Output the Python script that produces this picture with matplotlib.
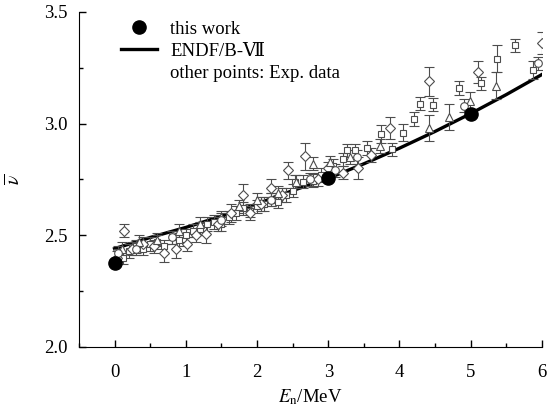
import matplotlib.pyplot as plt
from matplotlib.lines import Line2D
from matplotlib.ticker import MultipleLocator, FormatStrFormatter

plt.rcParams['font.family'] = ['Liberation Serif', 'DejaVu Serif', 'Noto Sans CJK SC']
plt.rcParams['mathtext.fontset'] = 'stix'

# this work
work_E = [0.0, 3.0, 5.0]
work_nu = [2.375, 2.755, 3.045]

# ENDF/B-VII evaluation
endf_E = [0, 0.25, 0.5, 1.0, 1.5, 2.0, 2.5, 3.0, 3.5, 4.0, 4.5, 5.0, 5.5, 6.0]
endf_nu = [2.44, 2.465, 2.49, 2.535, 2.585, 2.64, 2.70, 2.755, 2.82, 2.89, 2.965, 3.045, 3.13, 3.22]

# experimental data (squares)
sq_E = [0.05, 0.12, 0.2, 0.3, 0.4, 0.5, 0.6, 0.7, 0.8, 0.9, 1.0, 1.1, 1.2, 1.3, 1.4, 1.5,
        1.6, 1.7, 1.8, 1.9, 2.0, 2.1, 2.2, 2.3, 2.4, 2.5, 2.54, 2.65, 2.78, 2.9, 3.07, 3.2,
        3.27, 3.38, 3.55, 3.74, 3.9, 4.05, 4.2, 4.29, 4.47, 4.83, 5.15, 5.37, 5.62, 5.88]
sq_nu = [2.41, 2.40, 2.43, 2.45, 2.44, 2.46, 2.47, 2.45, 2.49, 2.48, 2.50, 2.52, 2.53, 2.55, 2.56, 2.55,
         2.58, 2.60, 2.62, 2.61, 2.63, 2.64, 2.66, 2.65, 2.68, 2.70, 2.74, 2.74, 2.745, 2.77, 2.81, 2.84,
         2.88, 2.88, 2.89, 2.955, 2.885, 2.96, 3.02, 3.09, 3.085, 3.16, 3.18, 3.29, 3.35, 3.24]
sq_err = [0.03, 0.03, 0.03, 0.03, 0.03, 0.03, 0.03, 0.03, 0.03, 0.03, 0.03, 0.03, 0.03, 0.03, 0.03, 0.03,
          0.03, 0.03, 0.03, 0.03, 0.03, 0.03, 0.03, 0.03, 0.03, 0.03, 0.03, 0.03, 0.03, 0.03, 0.03, 0.03,
          0.03, 0.03, 0.03, 0.04, 0.03, 0.04, 0.03, 0.03, 0.03, 0.03, 0.03, 0.06, 0.03, 0.04]

# experimental data (diamonds)
dia_E = [0.03, 0.13, 0.25, 0.4, 0.55, 0.70, 0.86, 1.02, 1.15, 1.28, 1.45, 1.63, 1.81, 1.9,
         2.05, 2.19, 2.35, 2.44, 2.68, 2.85, 3.0, 3.2, 3.42, 3.6, 3.86, 4.42, 5.1, 6.0]
dia_nu = [2.40, 2.52, 2.44, 2.46, 2.45, 2.42, 2.44, 2.46, 2.50, 2.505, 2.55, 2.60, 2.68, 2.60,
          2.64, 2.71, 2.68, 2.79, 2.853, 2.75, 2.80, 2.78, 2.80, 2.86, 2.98, 3.19, 3.23, 3.36]
dia_err = [0.03, 0.03, 0.03, 0.03, 0.03, 0.04, 0.04, 0.03, 0.03, 0.04, 0.03, 0.04, 0.05, 0.03,
           0.03, 0.04, 0.03, 0.04, 0.06, 0.03, 0.03, 0.03, 0.05, 0.03, 0.05, 0.065, 0.05, 0.05]

# experimental data (triangles)
tri_E = [0.1, 0.35, 0.6, 0.9, 1.2, 1.5, 1.75, 2.0, 2.3, 2.55, 2.78, 3.03, 3.3, 3.73, 4.41, 4.69, 4.99, 5.36]
tri_nu = [2.44, 2.47, 2.48, 2.52, 2.55, 2.58, 2.63, 2.66, 2.69, 2.74, 2.82, 2.826, 2.85, 2.90, 2.98, 3.03, 3.10, 3.17]
tri_err = [0.03, 0.03, 0.03, 0.03, 0.03, 0.03, 0.03, 0.03, 0.03, 0.03, 0.03, 0.03, 0.03, 0.03, 0.06, 0.06, 0.04, 0.06]

# experimental data (circles)
cir_E = [0.05, 0.3, 0.8, 1.5, 2.2, 2.75, 3.1, 3.4, 4.91, 5.95]
cir_nu = [2.42, 2.44, 2.49, 2.57, 2.66, 2.75, 2.79, 2.85, 3.08, 3.27]
cir_err = [0.03, 0.03, 0.03, 0.03, 0.03, 0.03, 0.03, 0.03, 0.03, 0.03]

fig = plt.figure(figsize=(5.48, 4.12), dpi=100)
ax = fig.add_axes([0.144, 0.158, 0.845, 0.813])

ax.plot(endf_E, endf_nu, color='black', lw=2.4, zorder=2)

gray = '#4d4d4d'
for E, nu, err, m, ms in [(sq_E, sq_nu, sq_err, 's', 5),
                          (dia_E, dia_nu, dia_err, 'D', 5),
                          (tri_E, tri_nu, tri_err, '^', 6),
                          (cir_E, cir_nu, cir_err, 'o', 5.5)]:
    ax.errorbar(E, nu, yerr=err, fmt=m, ms=ms, mfc='white', mec=gray, mew=0.8,
                ecolor=gray, elinewidth=0.8, capsize=3.5, capthick=0.8, zorder=3)

ax.plot(work_E, work_nu, 'o', color='black', ms=9.5, zorder=5)

ax.set_xlim(-0.5, 6)
ax.set_ylim(2.0, 3.5)
ax.xaxis.set_major_locator(MultipleLocator(1))
ax.xaxis.set_minor_locator(MultipleLocator(0.5))
ax.yaxis.set_major_locator(MultipleLocator(0.5))
ax.yaxis.set_minor_locator(MultipleLocator(0.25))
ax.yaxis.set_major_formatter(FormatStrFormatter('%.1f'))
ax.tick_params(which='both', direction='in', labelsize=13.5, width=1)
ax.tick_params(which='major', length=5)
ax.tick_params(axis='x', which='major', pad=12)
ax.tick_params(axis='y', which='major', pad=8)
ax.tick_params(which='minor', length=3)
ax.spines['top'].set_visible(False)
ax.spines['right'].set_visible(False)

ax.set_xlabel(r'$E_{\mathrm{n}}$/MeV', fontsize=13.5)
ax.xaxis.set_label_coords(0.5, -0.12)
ax.set_ylabel(r'$\overline{\nu}$', fontsize=14)
ax.yaxis.set_label_coords(-0.12, 0.5)

handles = [Line2D([], [], marker='o', color='black', ls='none', ms=9.5),
           Line2D([], [], color='black', lw=2.4),
           Line2D([], [], ls='none')]
labels = ['this work', 'ENDF/B-Ⅶ', 'other points: Exp. data']
ax.legend(handles, labels, loc='upper left', bbox_to_anchor=(0.055, 1.025), frameon=False,
          fontsize=13.5, handlelength=1.9, labelspacing=0.28, handletextpad=0.7)

fig.savefig('out.png', dpi=100)
